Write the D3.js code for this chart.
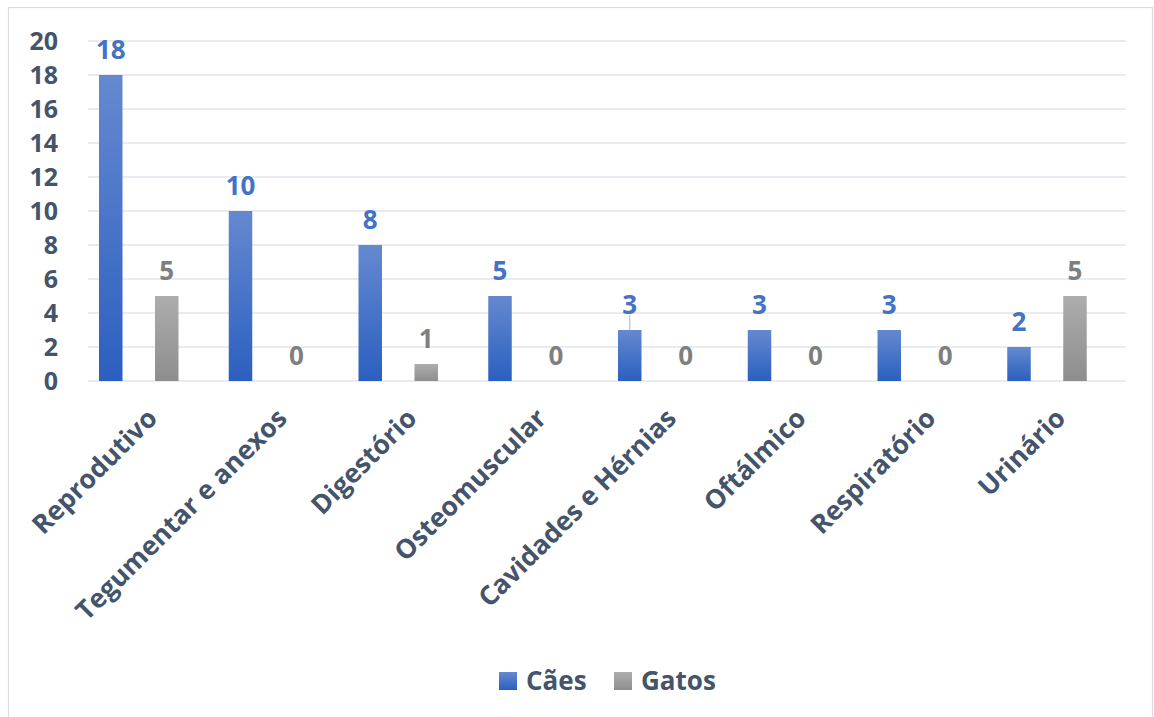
<!DOCTYPE html>
<html><head><meta charset="utf-8">
<script src="https://cdn.jsdelivr.net/npm/d3@7/dist/d3.min.js"></script>
<style>body{margin:0;background:#fff;}svg{display:block;font-family:"Open Sans",sans-serif;font-weight:bold;}</style>
</head><body>
<svg id="c" width="1154" height="717"></svg>
<script>
const categories = ["Reprodutivo","Tegumentar e anexos","Digestório","Osteomuscular","Cavidades e Hérnias","Oftálmico","Respiratório","Urinário"];
const caes = [18,10,8,5,3,3,3,2];
const gatos = [5,0,1,0,0,0,0,5];
const yTicks = [0,2,4,6,8,10,12,14,16,18,20];
const seriesNames = ["Cães","Gatos"];

const svg = d3.select("#c");
const defs = svg.append("defs");
const gb = defs.append("linearGradient").attr("id","gBlue").attr("x1",0).attr("y1",0).attr("x2",0).attr("y2",1);
gb.append("stop").attr("offset","0%").attr("stop-color","#6589d0");
gb.append("stop").attr("offset","100%").attr("stop-color","#2b5fc0");
const gg = defs.append("linearGradient").attr("id","gGray").attr("x1",0).attr("y1",0).attr("x2",0).attr("y2",1);
gg.append("stop").attr("offset","0%").attr("stop-color","#adadad");
gg.append("stop").attr("offset","100%").attr("stop-color","#8e8e8e");

// border
svg.append("rect").attr("x",8.5).attr("y",7.5).attr("width",1144).attr("height",712)
  .attr("fill","none").attr("stroke","#d9dde4").attr("stroke-width",1.2);

const x = d3.scaleBand().domain(categories).range([88,1126]);
const y = d3.scaleLinear().domain([0,20]).range([381,41]);

// gridlines
svg.append("g").selectAll("line").data(yTicks).join("line")
  .attr("x1",88).attr("x2",1126).attr("y1",d=>y(d)).attr("y2",d=>y(d))
  .attr("stroke","#e1e5eb").attr("stroke-width",1.5);

// y axis labels
svg.append("g").selectAll("text").data(yTicks).join("text")
  .attr("x",58).attr("y",d=>y(d)).attr("dy","0.36em").attr("text-anchor","end")
  .attr("font-size",25).attr("fill","#44546a").text(d=>d);

const bw = 23.5;
const off = [11, 67];
const colors = ["url(#gBlue)","url(#gGray)"];
const labColors = ["#4472c4","#7f7f7f"];
[caes,gatos].forEach((vals,si)=>{
  svg.append("g").selectAll("rect").data(vals).join("rect")
    .attr("x",(d,i)=>x(categories[i])+off[si]).attr("width",bw)
    .attr("y",d=>y(d)).attr("height",d=>y(0)-y(d)).attr("fill",colors[si]);
  svg.append("g").selectAll("text").data(vals).join("text")
    .attr("x",(d,i)=>x(categories[i])+off[si]+bw/2).attr("y",d=>y(d)-16)
    .attr("text-anchor","middle").attr("font-size",26).attr("fill",labColors[si]).text(d=>d);
});
// small leader line on Cavidades label
const ci = 4;
svg.append("line").attr("x1",x(categories[ci])+off[0]+bw/2).attr("x2",x(categories[ci])+off[0]+bw/2)
  .attr("y1",y(caes[ci])-15).attr("y2",y(caes[ci])).attr("stroke","#bfbfbf").attr("stroke-width",1.2);

// x labels
svg.append("g").selectAll("text").data(categories).join("text")
  .attr("transform",d=>`translate(${x(d)+x.bandwidth()/2+6},${420}) rotate(-45)`)
  .attr("text-anchor","end").attr("font-size",26.5).attr("fill","#44546a").text(d=>d);

// legend
const lg = svg.append("g");
const lx = [499, 614];
seriesNames.forEach((n,i)=>{
  lg.append("rect").attr("x",lx[i]).attr("y",672).attr("width",18).attr("height",18).attr("fill",colors[i]);
  lg.append("text").attr("x",lx[i]+27).attr("y",690).attr("font-size",26).attr("fill","#44546a").text(n);
});
</script>
</body></html>
